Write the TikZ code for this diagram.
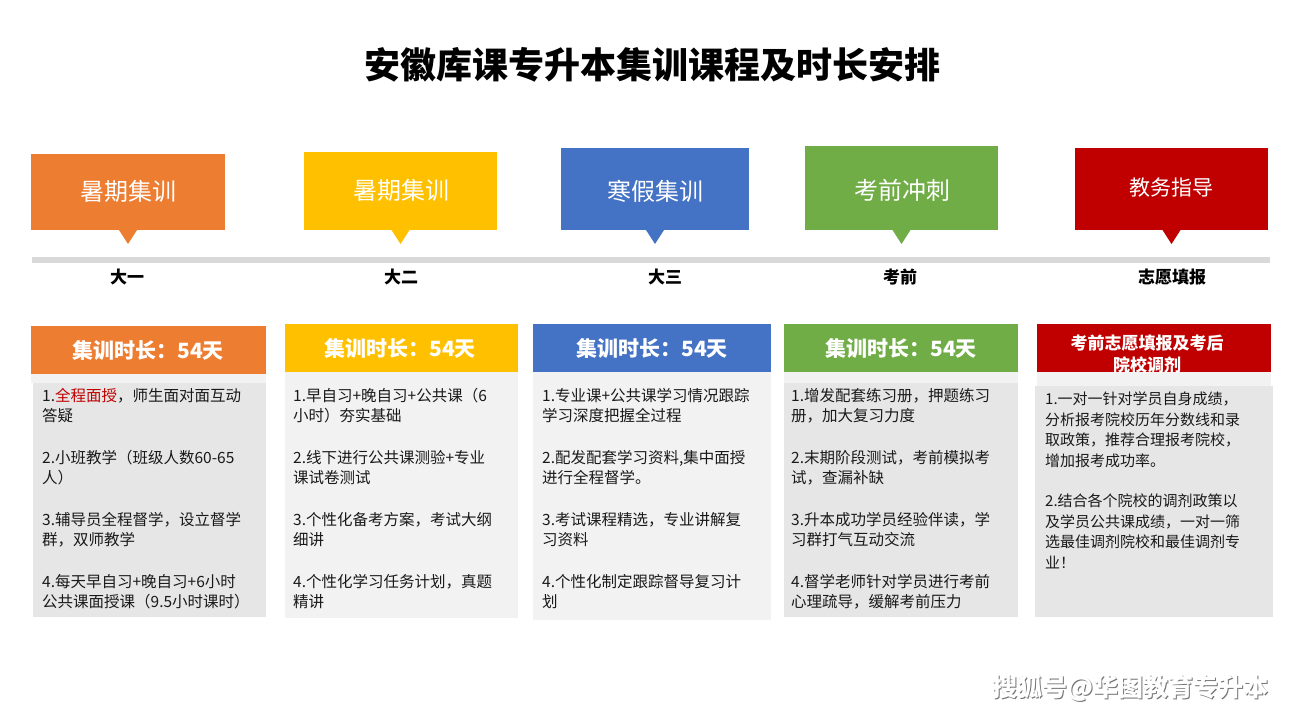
\documentclass[tikz,border=0pt]{standalone}
\usepackage{fontspec}
\setmainfont{Noto Sans CJK SC}
\definecolor{cO}{HTML}{ED7D31}
\definecolor{cY}{HTML}{FFC000}
\definecolor{cB}{HTML}{4472C4}
\definecolor{cG}{HTML}{70AD47}
\definecolor{cR}{HTML}{C00000}
\definecolor{gA}{HTML}{E6E6E6}
\definecolor{gB}{HTML}{F2F2F2}
\definecolor{ln}{HTML}{D9D9D9}
\tikzset{
  x=1pt,y=-1pt,
  topbox/.style={inner sep=0, text=white, font=\fontsize{24}{28}\selectfont},
  stage/.style={font=\fontsize{17}{20}\selectfont\bfseries, text=black},
  hdr/.style={inner sep=0, text=white, font=\fontsize{21}{24}\selectfont\bfseries},
  body/.style={inner sep=0, anchor=north west, align=left, text=black!90, font=\fontsize{15.5}{20}\selectfont},
}
\newcommand{\tbox}[6]{% name, color, x1,y1,x2,y2
  \fill[#2] (#3,#4) rectangle (#5,#6);
  \fill[#2] ({(#3+#5)/2-9},#6) -- ({(#3+#5)/2},#6+14) -- ({(#3+#5)/2+9},#6) -- cycle;
}
\begin{document}
\begin{tikzpicture}
\useasboundingbox[fill=white] (0,0) rectangle (1305,715);
\node[font=\fontsize{36}{40}\selectfont\bfseries] (title) at (652,65) {安徽库课专升本集训课程及时长安排};
% timeline
\fill[ln] (32,257) rectangle (1270,263);
\tbox{t1}{cO}{31}{154}{225}{230}
\tbox{t2}{cY}{304}{152}{497}{230}
\tbox{t3}{cB}{561}{148}{749}{230}
\tbox{t4}{cG}{805}{146}{998}{230}
\tbox{t5}{cR}{1075}{148}{1268}{230}
\node[topbox] (a1) at (128,191) {暑期集训};
\node[topbox] (a2) at (401,190) {暑期集训};
\node[topbox] (a3) at (655,191) {寒假集训};
\node[topbox] (a4) at (902,190) {考前冲刺};
\node[topbox,font=\fontsize{21}{24}\selectfont] (a5) at (1171,188) {教务指导};
\node[stage] (s1) at (127,277) {大一};
\node[stage] (s2) at (401,277) {大二};
\node[stage] (s3) at (665,277) {大三};
\node[stage] (s4) at (900,277) {考前};
\node[stage] (s5) at (1172,277) {志愿填报};
% bodies
\fill[gB] (31,374) rectangle (266,383);
\fill[gA] (33,383) rectangle (266,617);
\fill[gB] (285,372) rectangle (518,618);
\fill[gB] (533,372) rectangle (771,620);
\fill[gB] (784,372) rectangle (1018,383);
\fill[gA] (784,383) rectangle (1018,617);
\fill[gB] (1037,372) rectangle (1271,386);
\fill[gA] (1035,386) rectangle (1273,617);
% headers
\fill[cO] (31,326) rectangle (266,374);
\fill[cY] (285,324) rectangle (518,372);
\fill[cB] (533,324) rectangle (771,372);
\fill[cG] (784,324) rectangle (1018,372);
\fill[cR] (1037,324) rectangle (1271,372);
\node[hdr] (h1) at (148,350) {集训时长：54天};
\node[hdr] (h2) at (400,348) {集训时长：54天};
\node[hdr] (h3) at (652,348) {集训时长：54天};
\node[hdr] (h4) at (901,348) {集训时长：54天};
\begin{scope}
\clip (1037,324) rectangle (1271,372);
\node[inner sep=0, text=white, align=center, font=\fontsize{17}{22}\selectfont\bfseries] (h5) at (1147,354) {考前志愿填报及考后\\院校调剂};
\end{scope}
% texts
\node[body] (b1) at (42,388) {1.\textcolor{cR}{全程面授}，师生面对面互动\\答疑\\[22pt]2.小班教学（班级人数60-65\\人）\\[22pt]3.辅导员全程督学，设立督学\\群，双师教学\\[22pt]4.每天早自习+晚自习+6小时\\公共课面授课（9.5小时课时）};
\node[body] (b2) at (293,388) {1.早自习+晚自习+公共课（6\\小时）夯实基础\\[22pt]2.线下进行公共课测验+专业\\课试卷测试\\[22pt]3.个性化备考方案，考试大纲\\细讲\\[22pt]4.个性化学习任务计划，真题\\精讲};
\node[body] (b3) at (542,388) {1.专业课+公共课学习情况跟踪\\学习深度把握全过程\\[22pt]2.配发配套学习资料,集中面授\\进行全程督学。\\[22pt]3.考试课程精选，专业讲解复\\习资料\\[22pt]4.个性化制定跟踪督导复习计\\划};
\node[body] (b4) at (791,388) {1.增发配套练习册，押题练习\\册，加大复习力度\\[22pt]2.末期阶段测试，考前模拟考\\试，查漏补缺\\[22pt]3.升本成功学员经验伴读，学\\习群打气互动交流\\[22pt]4.督学老师针对学员进行考前\\心理疏导，缓解考前压力};
\node[body,font=\fontsize{15}{20.5}\selectfont] (b5) at (1045,392) {1.一对一针对学员自身成绩，\\分析报考院校历年分数线和录\\取政策，推荐合理报考院校，\\增加报考成功率。\\[20pt]2.结合各个院校的调剂政策以\\及学员公共课成绩，一对一筛\\选最佳调剂院校和最佳调剂专\\业！};
% watermark
\node[text=black!55, font=\fontsize{25}{28}\selectfont\bfseries] (wm2) at (1131.5,689.5) {搜狐号@华图教育专升本};
\node[text=white, font=\fontsize{25}{28}\selectfont\bfseries] (wm) at (1130,688) {搜狐号@华图教育专升本};
\end{tikzpicture}
\end{document}
